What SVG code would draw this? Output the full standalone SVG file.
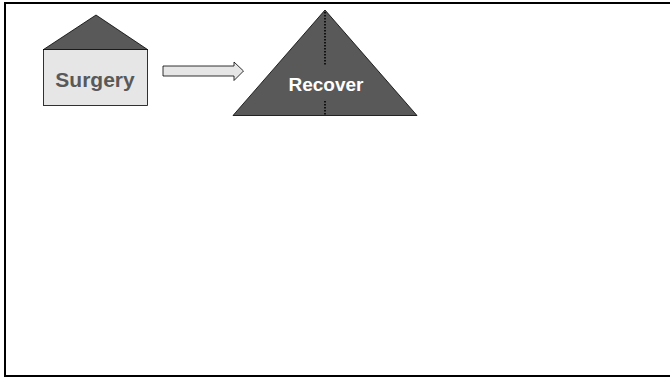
<svg xmlns="http://www.w3.org/2000/svg" width="670" height="378" viewBox="0 0 670 378">
<style>
.lbl{font-family:"Liberation Sans",Arial,sans-serif;font-weight:bold;text-anchor:middle}
.shape{stroke:#000;stroke-width:0.8}
.dot{stroke:#000;stroke-width:1.6;stroke-dasharray:1.5 1.5}
</style>
<rect x="0" y="0" width="670" height="378" fill="#fff"/>
<rect x="5" y="3" width="700" height="373" fill="none" stroke="#000" stroke-width="2"/>
<g id="surgery">
<polygon class="shape" points="43.5,49.5 96,15 147.5,49.5" fill="#595959"/>
<rect class="shape" x="43.5" y="49.5" width="104" height="56" fill="#e6e6e6"/>
<text class="lbl" x="95" y="87" font-size="21" fill="#595959">Surgery</text>
</g>
<g id="connectors">
<polygon class="shape" points="163,66 234,66 234,62 243.5,71 234,80.5 234,76 163,76" fill="#e6e6e6"/>
</g>
<g id="recover">
<polygon class="shape" points="325,10 417,115.5 233,115.5" fill="#595959"/>
<line class="dot" x1="325" y1="12" x2="325" y2="66"/>
<line class="dot" x1="325" y1="101" x2="325" y2="115"/>
<text class="lbl" x="326" y="91" font-size="19" fill="#fff">Recover</text>
</g>
</svg>
